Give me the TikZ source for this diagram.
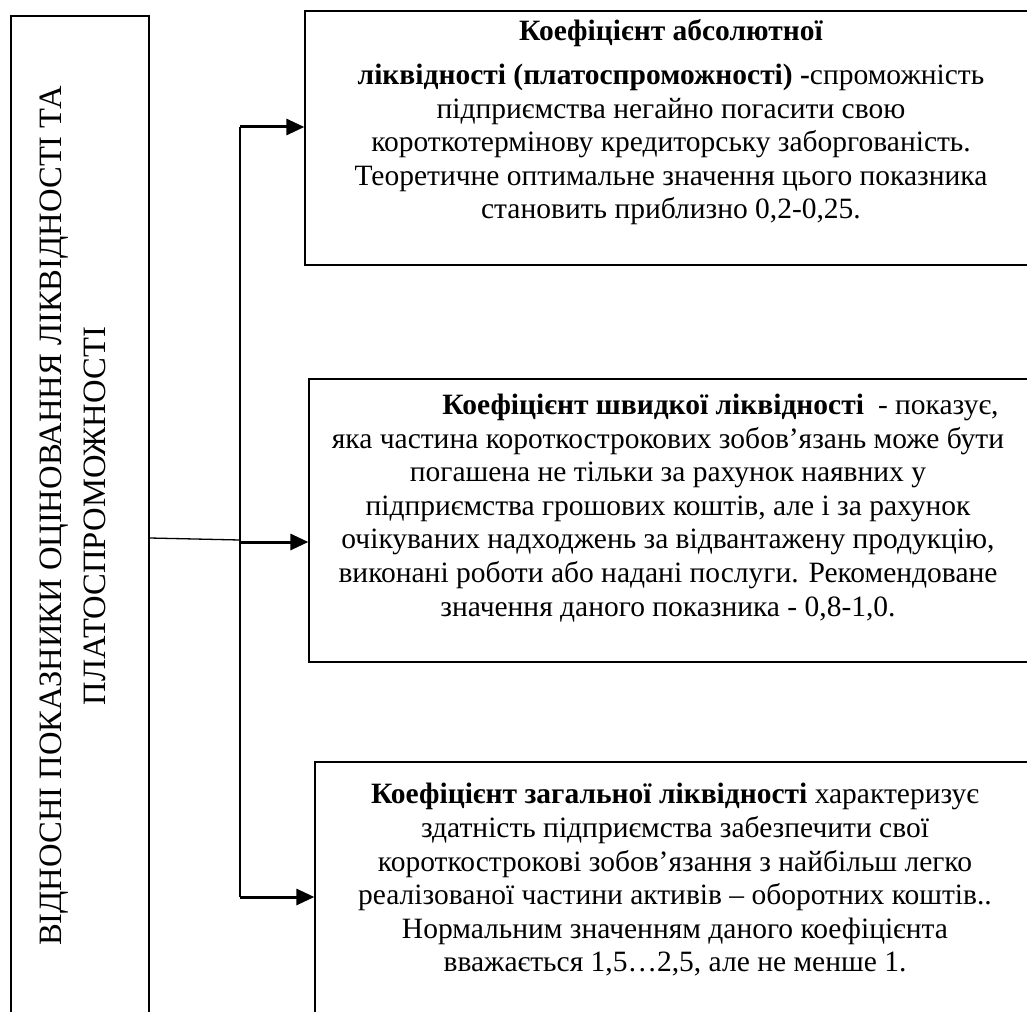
\documentclass[tikz,border=0pt]{standalone}
\usepackage{fontspec}
\setmainfont{Liberation Serif}
\usetikzlibrary{arrows.meta}
\begin{document}
\begin{tikzpicture}[x=1pt,y=-1pt,
  frame/.style={draw=black,line width=1.3pt,rectangle,inner sep=0pt},
  body/.style={align=center,inner sep=0pt,font=\fontsize{29.5}{33.6}\selectfont},
  trunk/.style={draw=black,line width=1.3pt},
  feed/.style={draw=black,line width=3pt,-{Triangle[length=18pt,width=16pt]},shorten >=0pt}
]
\useasboundingbox (0,0) rectangle (1027,1011);
\clip (0,0) rectangle (1027,1011);

% left column with the vertical heading
\node[frame,minimum width=138pt,minimum height=1000pt] (lbox) at (80,516) {};
\node[rotate=90,align=center,inner sep=0pt,font=\fontsize{32.6}{44}\selectfont] (ltitle) at (73,516)
  {ВІДНОСНІ ПОКАЗНИКИ ОЦІНОВАННЯ ЛІКВІДНОСТІ ТА\\ПЛАТОСПРОМОЖНОСТІ};

% three description boxes
\node[frame,minimum width=740pt,minimum height=254pt] (b1) at (675,138) {};
\node[frame,minimum width=736pt,minimum height=283pt] (b2) at (677,520.5) {};
\node[frame,minimum width=730pt,minimum height=268pt] (b3) at (680,896) {};

\node[body] (t1) at (671,122.5)
  {\textbf{Коефіцієнт абсолютної}\\[10pt]
   \textbf{ліквідності (платоспроможності) -}спроможність\\
   підприємства негайно погасити свою\\
   короткотермінову кредиторську заборгованість.\\
   Теоретичне оптимальне значення цього показника\\
   становить приблизно 0,2-0,25.};

\node[body] (t2) at (668,508)
  {\hspace*{105pt}\textbf{Коефіцієнт швидкої ліквідності}\hspace{14pt}- показує,\\
   яка частина короткострокових зобов'язань може бути\\
   погашена не тільки за рахунок наявних у\\
   підприємства грошових коштів, але і за рахунок\\
   очікуваних надходжень за відвантажену продукцію,\\
   виконані роботи або надані послуги. Рекомендоване\\
   значення даного показника - 0,8-1,0.};

\node[body] (t3) at (675,880)
  {\textbf{Коефіцієнт загальної ліквідності} характеризує\\
   здатність підприємства забезпечити свої\\
   короткострокові зобов’язання з найбільш легко\\
   реалізованої частини активів – оборотних коштів..\\
   Нормальним значенням даного коефіцієнта\\
   вважається 1,5…2,5, але не менше 1.};

% connectors
\coordinate (jtop) at (240,127);
\coordinate (jmid) at (240,542);
\coordinate (jbot) at (240,897);
\draw[trunk] (jtop) -- (jbot);
\draw[trunk] (lbox.east |- 0,538) -- (240,540);
\draw[feed] (jtop) -- (b1.west |- jtop);
\draw[feed] (jmid) -- (b2.west |- jmid);
\draw[feed] (jbot) -- (b3.west |- jbot);
\end{tikzpicture}
\end{document}
